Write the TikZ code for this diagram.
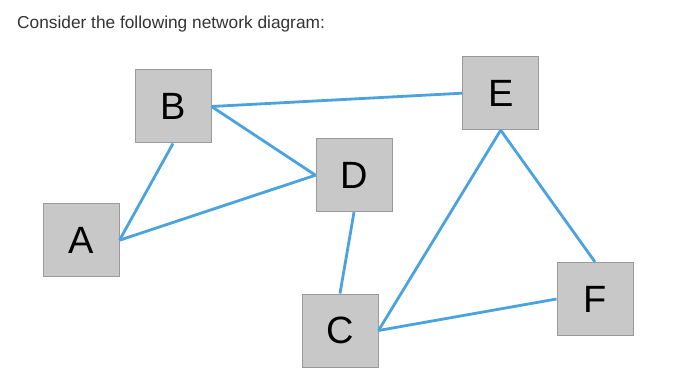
\documentclass[tikz,border=0pt]{standalone}
\usepackage{fontspec}
\setmainfont{Liberation Sans}
\definecolor{edgeblue}{HTML}{4AA3DF}
\definecolor{boxfill}{HTML}{C8C8C8}
\definecolor{boxline}{HTML}{9A9A9A}
\definecolor{titlegray}{HTML}{333333}
\begin{document}
\begin{tikzpicture}[x=1pt,y=-1pt,
  netnode/.style={draw=boxline,line width=1pt,fill=boxfill,minimum width=76pt,minimum height=73pt,inner sep=0pt,font=\fontsize{38}{42}\selectfont,text=black},
  link/.style={draw=edgeblue,line width=2.8pt}]
\useasboundingbox (0,0) rectangle (691,385);
\node[anchor=base west,text=titlegray,font=\fontsize{17.3}{20}\selectfont,inner sep=0pt] (title) at (17,29) {Consider the following network diagram:};
\node[netnode] (B) at (173,106.5) {B};
\node[netnode] (E) at (500.7,93.2) {E};
\node[netnode] (D) at (354,175.2) {D};
\node[netnode] (A) at (81,240.2) {A};
\node[netnode] (C) at (340,330.5) {C};
\node[netnode] (F) at (595,299) {F};
\draw[link] (B.east) -- (E.west);
\draw[link] (B.east) -- (D.west);
\draw[link] (B.south) -- (A.east);
\draw[link] (A.east) -- (D.west);
\draw[link] (D.south) -- (C.north);
\draw[link] (E.south) -- (C.east);
\draw[link] (E.south) -- (F.north);
\draw[link] (C.east) -- (F.west);
\end{tikzpicture}
\end{document}
